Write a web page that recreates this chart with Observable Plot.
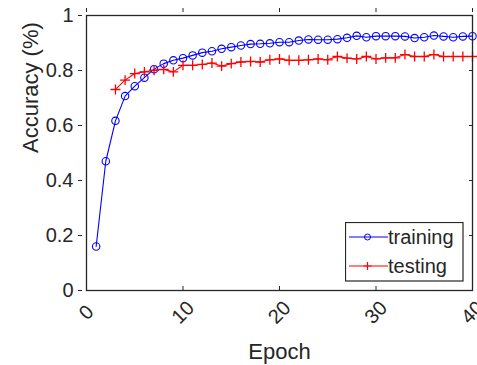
<!DOCTYPE html>
<html><head><meta charset="utf-8">
<script src="https://cdn.jsdelivr.net/npm/d3@7"></script>
<script src="https://cdn.jsdelivr.net/npm/@observablehq/plot@0.6"></script>
<style>
body{margin:0;background:#fff;}
#wrap{position:relative;width:477px;height:365px;font-family:"Liberation Sans",Arial,sans-serif;}
</style></head><body><div id="wrap"></div>
<script>
const epochs = [1,2,3,4,5,6,7,8,9,10,11,12,13,14,15,16,17,18,19,20,21,22,23,24,25,26,27,28,29,30,31,32,33,34,35,36,37,38,39,40];
const training = [0.16,0.47,0.617,0.707,0.743,0.774,0.805,0.825,0.837,0.845,0.855,0.865,0.870,0.879,0.885,0.891,0.896,0.897,0.899,0.903,0.903,0.909,0.913,0.912,0.912,0.914,0.919,0.926,0.921,0.925,0.925,0.925,0.924,0.918,0.921,0.927,0.924,0.921,0.924,0.925];
const testEpochs = [3,4,5,6,7,8,9,10,11,12,13,14,15,16,17,18,19,20,21,22,23,24,25,26,27,28,29,30,31,32,33,34,35,36,37,38,39,40];
const testing = [0.731,0.765,0.789,0.795,0.801,0.804,0.795,0.819,0.819,0.822,0.827,0.816,0.825,0.831,0.833,0.831,0.839,0.842,0.837,0.837,0.839,0.842,0.839,0.851,0.845,0.842,0.851,0.842,0.846,0.846,0.858,0.851,0.851,0.858,0.851,0.851,0.851,0.851];
const xTicks = [0,10,20,30,40];
const yTicks = [0,0.2,0.4,0.6,0.8,1];
const seriesNames = ["training","testing"];
const xLabel = "Epoch";
const yLabel = "Accuracy (%)";

const blue = "#0000ff", red = "#ff0000", ink = "#262626";
const trainData = epochs.map((e,i)=>({epoch:e, acc:training[i]}));
const testData = testEpochs.map((e,i)=>({epoch:e, acc:testing[i]}));

const chart = Plot.plot({
  width: 477, height: 365,
  marginLeft: 86, marginRight: 5, marginTop: 15, marginBottom: 75,
  style: {fontFamily: "'Liberation Sans', Arial, sans-serif", fontSize: "20px", color: ink, background: "white"},
  x: {domain: [0, 40]},
  y: {domain: [0, 1]},
  marks: [
    Plot.line(trainData, {x: "epoch", y: "acc", stroke: blue, strokeWidth: 1.1}),
    Plot.dot(trainData, {x: "epoch", y: "acc", stroke: blue, r: 3.7, strokeWidth: 1.1, fill: "none"}),
    Plot.line(testData, {x: "epoch", y: "acc", stroke: red, strokeWidth: 1.1}),
    Plot.dot(testData, {x: "epoch", y: "acc", stroke: red, symbol: "plus", r: 3.3, strokeWidth: 1.3}),
    Plot.frame({stroke: ink, strokeWidth: 1.3}),
    Plot.axisX({ticks: xTicks, anchor: "bottom", tickSize: 4, dy: -4, tickFormat: () => "", label: null, color: ink}),
    Plot.axisX({ticks: xTicks, anchor: "top", tickSize: 4, dy: -4, tickFormat: () => "", label: null, color: ink}),
    Plot.axisY({ticks: yTicks, anchor: "right", tickSize: 4, dx: -4, tickFormat: () => "", label: null, color: ink}),
    Plot.axisY({ticks: yTicks, anchor: "left", tickSize: 4, dx: -4, tickPadding: 5, tickFormat: d => String(d), label: null, color: ink, fontSize: 20}),
    Plot.text(xTicks, {x: d => d, text: d => String(d), frameAnchor: "bottom", dy: 22, rotate: -45, textAnchor: "middle", lineAnchor: "middle", fontSize: 20, fill: ink}),
    Plot.text([xLabel], {text: d => d, frameAnchor: "bottom", dy: 61, lineAnchor: "middle", fontSize: 22, fill: ink}),
    Plot.text([yLabel], {text: d => d, frameAnchor: "left", dx: -56, rotate: -90, lineAnchor: "middle", fontSize: 22, fill: ink})
  ]
});
const wrap = document.getElementById("wrap");
wrap.appendChild(chart);

// legend overlay
const lg = d3.create("svg").attr("width", 120).attr("height", 61)
  .style("position", "absolute").style("left", "345px").style("top", "222px")
  .style("font-family", "'Liberation Sans', Arial, sans-serif");
lg.append("rect").attr("x", 0.5).attr("y", 0.5).attr("width", 117.5).attr("height", 58.5)
  .attr("fill", "white").attr("stroke", ink).attr("stroke-width", 1.2);
const rows = [{name: seriesNames[0], color: blue, y: 15}, {name: seriesNames[1], color: red, y: 44}];
rows.forEach((r, i) => {
  lg.append("line").attr("x1", 4).attr("x2", 43).attr("y1", r.y).attr("y2", r.y).attr("stroke", r.color).attr("stroke-width", 1.1);
  if (i === 0) lg.append("circle").attr("cx", 22.5).attr("cy", r.y).attr("r", 3).attr("fill", "none").attr("stroke", r.color);
  else lg.append("path").attr("d", `M18.5,${r.y}H26.5M22.5,${r.y-4}V${r.y+4}`).attr("stroke", r.color).attr("stroke-width", 1.2);
  lg.append("text").attr("x", 43).attr("y", r.y + 7).attr("font-size", 20).attr("fill", ink).text(r.name);
});
wrap.appendChild(lg.node());
</script>
</body></html>
